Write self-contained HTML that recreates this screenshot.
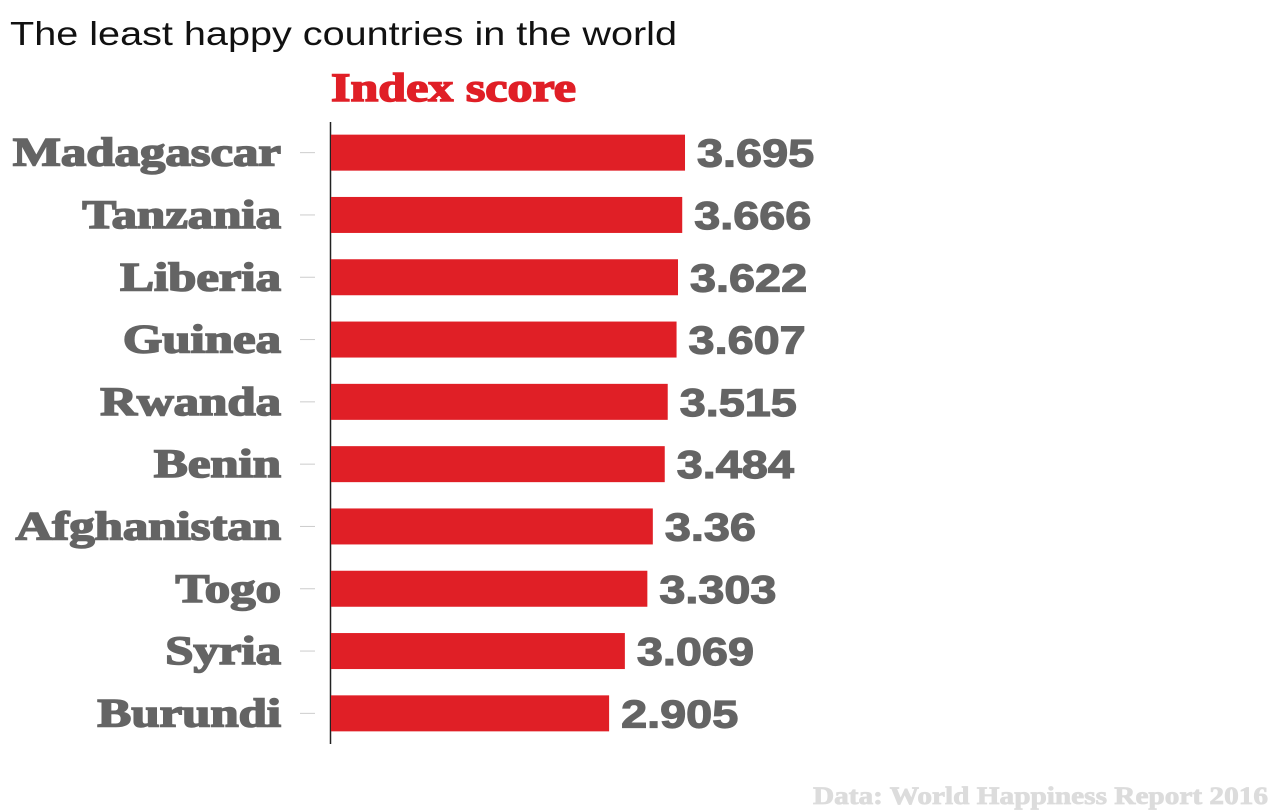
<!DOCTYPE html>
<html><head><meta charset="utf-8"><style>
html,body{margin:0;padding:0;background:#fff;width:1280px;height:810px;overflow:hidden}
</style></head><body>
<svg id="chart" width="1280" height="810" xmlns="http://www.w3.org/2000/svg">
<text x="10" y="45" font-family="Liberation Sans, sans-serif" font-size="33" fill="#111" textLength="667" lengthAdjust="spacingAndGlyphs">The least happy countries in the world</text>
<text x="331" y="101" font-family="Liberation Serif, serif" font-weight="bold" font-size="40" fill="#e01f26" stroke="#e01f26" stroke-width="1.5" textLength="245" lengthAdjust="spacingAndGlyphs">Index score</text>
<line x1="330.5" y1="122" x2="330.5" y2="744" stroke="#222" stroke-width="1.5"/>
<g id="bars"></g>
<text x="813" y="804" font-family="Liberation Serif, serif" font-weight="bold" font-size="25" fill="#dcdcdc" stroke="#dcdcdc" stroke-width="0.8" textLength="455" lengthAdjust="spacingAndGlyphs">Data: World Happiness Report 2016</text>
</svg>
<script>
const categories = ["Madagascar","Tanzania","Liberia","Guinea","Rwanda","Benin","Afghanistan","Togo","Syria","Burundi"];
const values = [3.695,3.666,3.622,3.607,3.515,3.484,3.36,3.303,3.069,2.905];
const valueLabels = ["3.695","3.666","3.622","3.607","3.515","3.484","3.36","3.303","3.069","2.905"];
const x0 = 330, pxPerUnit = 96.08, top0 = 121, band = 62.3, barH = 36;
const xScale = v => x0 + v * pxPerUnit;
const yScale = i => top0 + i * band + (band - barH) / 2 + 0.5;
const NS = "http://www.w3.org/2000/svg";
const g = document.getElementById("bars");
function widen(el, f) {
  const w = el.getComputedTextLength();
  el.setAttribute("textLength", w * f);
  el.setAttribute("lengthAdjust", "spacingAndGlyphs");
}
categories.forEach((c, i) => {
  const y = yScale(i);
  const r = document.createElementNS(NS, "rect");
  r.setAttribute("x", x0 + 1); r.setAttribute("y", y);
  r.setAttribute("width", xScale(values[i]) - x0 - 1); r.setAttribute("height", barH);
  r.setAttribute("fill", "#e01f26");
  
  
  g.appendChild(r);
  const t = document.createElementNS(NS, "line");
  t.setAttribute("x1", 300); t.setAttribute("x2", 315);
  t.setAttribute("y1", y + barH / 2); t.setAttribute("y2", y + barH / 2);
  t.setAttribute("stroke", "#ccc"); t.setAttribute("stroke-width", "1");
  
  
  g.appendChild(t);
  const l = document.createElementNS(NS, "text");
  l.setAttribute("x", 281); l.setAttribute("y", y + barH / 2 + 13);
  l.setAttribute("text-anchor", "end");
  l.setAttribute("font-family", "Liberation Serif, serif");
  l.setAttribute("font-weight", "bold"); l.setAttribute("font-size", "40");
  l.setAttribute("fill", "#646464");
  l.setAttribute("stroke", "#646464"); l.setAttribute("stroke-width", "1.6");
  l.textContent = c;
  
  
  g.appendChild(l);
  widen(l, 1.27);
  const v = document.createElementNS(NS, "text");
  v.setAttribute("x", xScale(values[i]) + 12); v.setAttribute("y", y + barH / 2 + 14);
  v.setAttribute("font-family", "Liberation Sans, sans-serif");
  v.setAttribute("font-weight", "bold"); v.setAttribute("font-size", "39");
  v.setAttribute("fill", "#646464");
  v.setAttribute("stroke", "#646464"); v.setAttribute("stroke-width", "1.2");
  v.textContent = valueLabels[i];
  
  
  g.appendChild(v);
  widen(v, 1.2);
});
</script>
</body></html>
